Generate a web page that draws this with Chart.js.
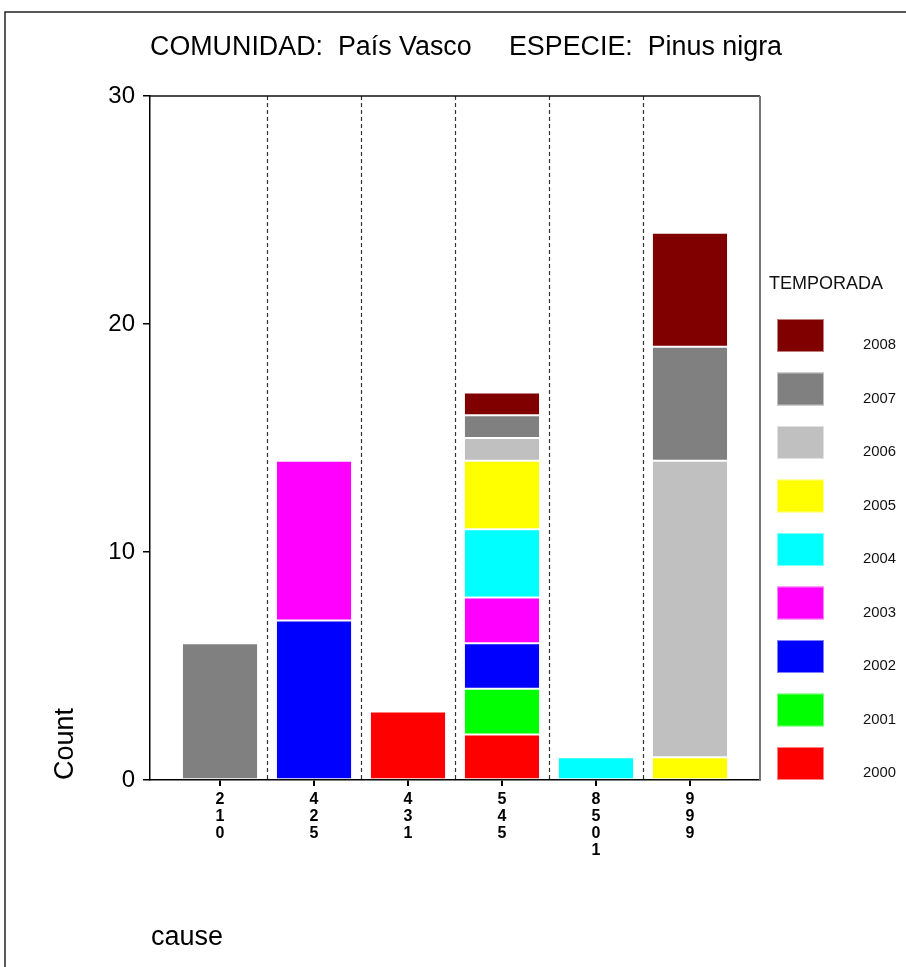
<!DOCTYPE html>
<html>
<head>
<meta charset="utf-8">
<script src="https://cdn.jsdelivr.net/npm/chart.js@4"></script>
<style>
  html, body { margin: 0; padding: 0; background: #fff; }
  canvas { display: block; }
</style>
</head>
<body>
<canvas id="c" width="906" height="967"></canvas>
<script>
// ---- data ----
const categories = ['210', '425', '431', '545', '8501', '999'];
const seasons = ['2000', '2001', '2002', '2003', '2004', '2005', '2006', '2007', '2008'];
const seasonColors = ['#FF0000', '#00FF00', '#0000FF', '#FF00FF', '#00FFFF', '#FFFF00', '#C0C0C0', '#808080', '#800000'];
const v2000 = [0, 0, 3, 2, 0, 0];
const v2001 = [0, 0, 0, 2, 0, 0];
const v2002 = [0, 7, 0, 2, 0, 0];
const v2003 = [0, 7, 0, 2, 0, 0];
const v2004 = [0, 0, 0, 3, 1, 0];
const v2005 = [0, 0, 0, 3, 0, 1];
const v2006 = [0, 0, 0, 1, 0, 13];
const v2007 = [6, 0, 0, 1, 0, 5];
const v2008 = [0, 0, 0, 1, 0, 5];
const seriesValues = [v2000, v2001, v2002, v2003, v2004, v2005, v2006, v2007, v2008];
const yTicks = [0, 10, 20, 30];
const titleText = 'COMUNIDAD:  País Vasco     ESPECIE:  Pinus nigra';
const yTitle = 'Count';
const xTitle = 'cause';
const legendTitle = 'TEMPORADA';

const FONT = "'Liberation Sans', Arial, sans-serif";

const datasets = seasons.map((s, k) => ({
  label: s,
  data: seriesValues[k].map((v, i) => ({ x: i, y: v })).filter(p => p.y > 0),
  backgroundColor: seasonColors[k],
  borderColor: 'rgba(255,255,255,0.6)',
  borderWidth: 1,
  borderSkipped: false,
  barPercentage: 0.81,
  categoryPercentage: 1.0
}));

const decor = {
  id: 'decor',
  beforeDatasetsDraw(chart) {
    const ctx = chart.ctx, a = chart.chartArea, xs = chart.scales.x;
    ctx.save();
    ctx.strokeStyle = '#333';
    ctx.lineWidth = 1.2;
    ctx.setLineDash([4, 3]);
    for (let i = 0; i < categories.length - 1; i++) {
      const px = Math.round(xs.getPixelForValue(i + 0.5)) + 0.5;
      ctx.beginPath();
      ctx.moveTo(px, a.top);
      ctx.lineTo(px, a.bottom);
      ctx.stroke();
    }
    ctx.restore();
  },
  afterDraw(chart) {
    const ctx = chart.ctx, a = chart.chartArea;
    ctx.save();
    // outer frame
    ctx.strokeStyle = '#222';
    ctx.lineWidth = 1.5;
    ctx.beginPath();
    ctx.moveTo(5, 967);
    ctx.lineTo(5, 12);
    ctx.lineTo(906, 12);
    ctx.stroke();
    // plot top and right
    ctx.strokeStyle = '#111';
    ctx.lineWidth = 1.5;
    ctx.beginPath();
    ctx.moveTo(a.left, a.top);
    ctx.lineTo(a.right, a.top);
    ctx.stroke();
    ctx.strokeStyle = '#777';
    ctx.lineWidth = 2;
    ctx.beginPath();
    ctx.moveTo(a.right, a.top);
    ctx.lineTo(a.right, a.bottom);
    ctx.stroke();
    // title
    ctx.fillStyle = '#000';
    ctx.font = '27px ' + FONT;
    ctx.textAlign = 'left';
    ctx.textBaseline = 'alphabetic';
    ctx.fillText(titleText, 150, 55, 632);
    // x title
    ctx.fillText(xTitle, 151, 945);
    // y title
    ctx.save();
    ctx.translate(73, 780);
    ctx.rotate(-Math.PI / 2);
    ctx.fillText(yTitle, 0, 0);
    ctx.restore();
    // legend
    ctx.font = '18px ' + FONT;
    ctx.fillStyle = '#111';
    ctx.fillText(legendTitle, 769, 289, 118);
    ctx.font = '15px ' + FONT;
    const n = seasons.length;
    for (let r = 0; r < n; r++) {
      const k = n - 1 - r;
      const top = 319 + r * 53.5;
      ctx.fillStyle = seasonColors[k];
      ctx.fillRect(777, top, 47, 33);
      ctx.strokeStyle = 'rgba(255,255,255,0.5)';
      ctx.lineWidth = 1;
      ctx.strokeRect(777.5, top + 0.5, 46, 32);
      ctx.fillStyle = '#111';
      ctx.fillText(seasons[k], 863, top + 30, 33);
    }
    ctx.restore();
  }
};

new Chart(document.getElementById('c'), {
  type: 'bar',
  data: { datasets },
  plugins: [decor],
  options: {
    responsive: false,
    animation: false,
    layout: { padding: { left: 90, right: 146, top: 96, bottom: 0 } },
    plugins: { legend: { display: false }, tooltip: { enabled: false }, title: { display: false } },
    scales: {
      x: {
        type: 'linear',
        stacked: true,
        offset: false,
        min: -0.745,
        max: categories.length - 1 + 0.745,
        afterBuildTicks: (s) => { s.ticks = categories.map((c, i) => ({ value: i })); },
        afterFit: (s) => { s.height = 187; },
        ticks: {
          color: '#000',
          padding: 5,
          maxRotation: 0,
          autoSkip: false,
          font: { family: "'Liberation Sans Narrow', 'Liberation Sans', Arial, sans-serif", size: 16, weight: 'bold', lineHeight: '17px' },
          callback: (v) => categories[v] ? categories[v].split('') : ''
        },
        grid: { offset: false, drawOnChartArea: false, drawTicks: true, tickLength: 6, lineWidth: 2, color: '#000' },
        border: { display: true, color: '#000', width: 1.5 }
      },
      y: {
        stacked: true,
        min: 0,
        max: 30,
        afterBuildTicks: (s) => { s.ticks = yTicks.map(v => ({ value: v })); },
        afterFit: (s) => { s.width = 60; },
        ticks: {
          color: '#000',
          padding: 8,
          font: { family: FONT, size: 24 }
        },
        grid: { drawOnChartArea: false, drawTicks: true, tickLength: 7, lineWidth: 1.5, color: '#000' },
        border: { display: true, color: '#000', width: 1.5 }
      }
    }
  }
});
</script>
</body>
</html>
